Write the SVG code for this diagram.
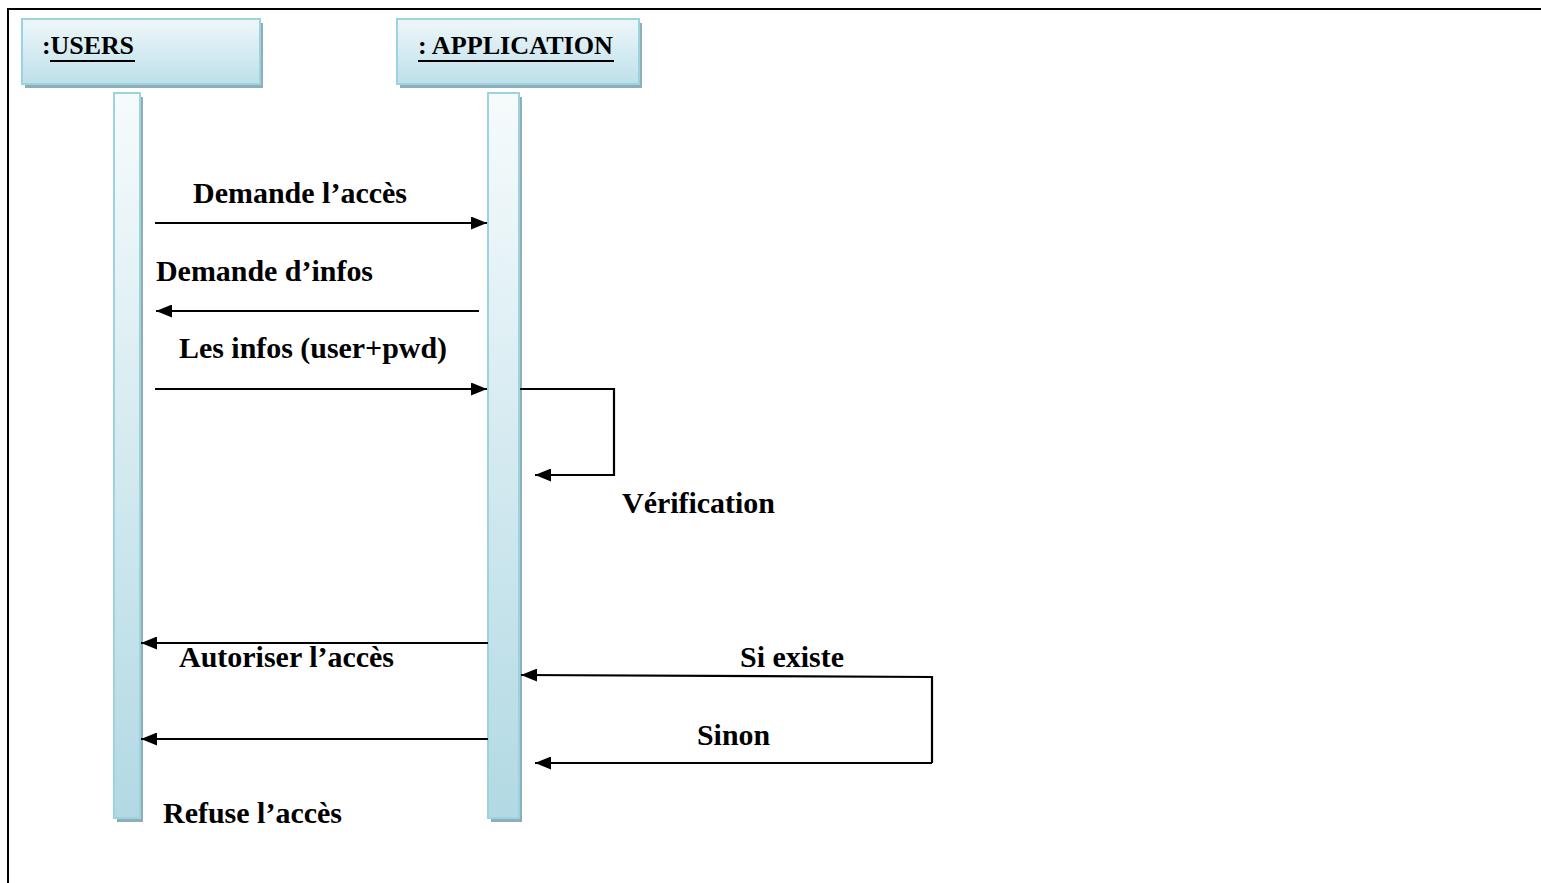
<svg xmlns="http://www.w3.org/2000/svg" width="1541" height="883" viewBox="0 0 1541 883">
<style>
.lbl{font-family:"Liberation Serif","Times New Roman",serif;font-weight:bold;font-size:30px;fill:#000}
.hdr{font-family:"Liberation Serif","Times New Roman",serif;font-weight:bold;font-size:26px;fill:#000}
.msg{fill:none;stroke:#000;stroke-width:2.2}
.box{fill:url(#boxg);stroke:#9dd3e0;stroke-width:2}
.sh{fill:#8fafb8}
.life{fill:url(#lifeg);stroke:#9dd3e0;stroke-width:2}
</style>
<defs>
<linearGradient id="boxg" x1="0" y1="0" x2="0" y2="1">
<stop offset="0" stop-color="#eef7fa"/>
<stop offset="1" stop-color="#bde0ea"/>
</linearGradient>
<linearGradient id="lifeg" x1="0" y1="0" x2="0" y2="1">
<stop offset="0" stop-color="#f6fbfc"/>
<stop offset="1" stop-color="#b2d9e4"/>
</linearGradient>
<marker id="ah" viewBox="0 0 16 13" refX="16" refY="6.5" markerWidth="16" markerHeight="13" markerUnits="userSpaceOnUse" orient="auto">
<path d="M0,0 L16,6.5 L0,13 Z" fill="#000"/>
</marker>
</defs>
<rect x="0" y="0" width="1541" height="883" fill="#fff"/>
<path d="M8,883 L8,9 L1541,9" fill="none" stroke="#000" stroke-width="2"/>
<g id="users">
<rect class="sh" x="25" y="23" width="238" height="65"/>
<rect class="box" x="22" y="19" width="238" height="65"/>
<text class="hdr" x="42" y="54" textLength="92" lengthAdjust="spacingAndGlyphs">:USERS</text>
<line x1="50" y1="61" x2="135" y2="61" stroke="#000" stroke-width="2"/>
<rect class="sh" x="117" y="97" width="26" height="725"/>
<rect class="life" x="114" y="93" width="26" height="725"/>
</g>
<g id="application">
<rect class="sh" x="400" y="23" width="242" height="65"/>
<rect class="box" x="397" y="19" width="242" height="65"/>
<text class="hdr" x="418" y="54" textLength="195" lengthAdjust="spacingAndGlyphs">: APPLICATION</text>
<line x1="418" y1="61" x2="614" y2="61" stroke="#000" stroke-width="2"/>
<rect class="sh" x="491" y="97" width="31" height="725"/>
<rect class="life" x="488" y="93" width="31" height="725"/>
</g>
<g id="connectors">
<line class="msg" x1="155" y1="223" x2="487" y2="223" marker-end="url(#ah)"/>
<line class="msg" x1="479" y1="311" x2="156" y2="311" marker-end="url(#ah)"/>
<line class="msg" x1="155" y1="389" x2="487" y2="389" marker-end="url(#ah)"/>
<polyline class="msg" points="520,389 614,389 614,475 535,475" marker-end="url(#ah)"/>
<line class="msg" x1="488" y1="643" x2="141" y2="643" marker-end="url(#ah)"/>
<polyline class="msg" points="932,763 932,677 521,675" marker-end="url(#ah)"/>
<line class="msg" x1="932" y1="763" x2="535" y2="763" marker-end="url(#ah)"/>
<line class="msg" x1="488" y1="739" x2="141" y2="739" marker-end="url(#ah)"/>
</g>
<g id="labels">
<text class="lbl" x="193" y="203" textLength="214" lengthAdjust="spacingAndGlyphs">Demande l’accès</text>
<text class="lbl" x="156" y="281" textLength="217" lengthAdjust="spacingAndGlyphs">Demande d’infos</text>
<text class="lbl" x="179" y="358" textLength="268" lengthAdjust="spacingAndGlyphs">Les infos (user+pwd)</text>
<text class="lbl" x="622" y="513" textLength="153" lengthAdjust="spacingAndGlyphs">Vérification</text>
<text class="lbl" x="179" y="667" textLength="215" lengthAdjust="spacingAndGlyphs">Autoriser l’accès</text>
<text class="lbl" x="740" y="667" textLength="104" lengthAdjust="spacingAndGlyphs">Si existe</text>
<text class="lbl" x="697" y="745" textLength="73" lengthAdjust="spacingAndGlyphs">Sinon</text>
<text class="lbl" x="163" y="823" textLength="179" lengthAdjust="spacingAndGlyphs">Refuse l’accès</text>
</g>
</svg>
